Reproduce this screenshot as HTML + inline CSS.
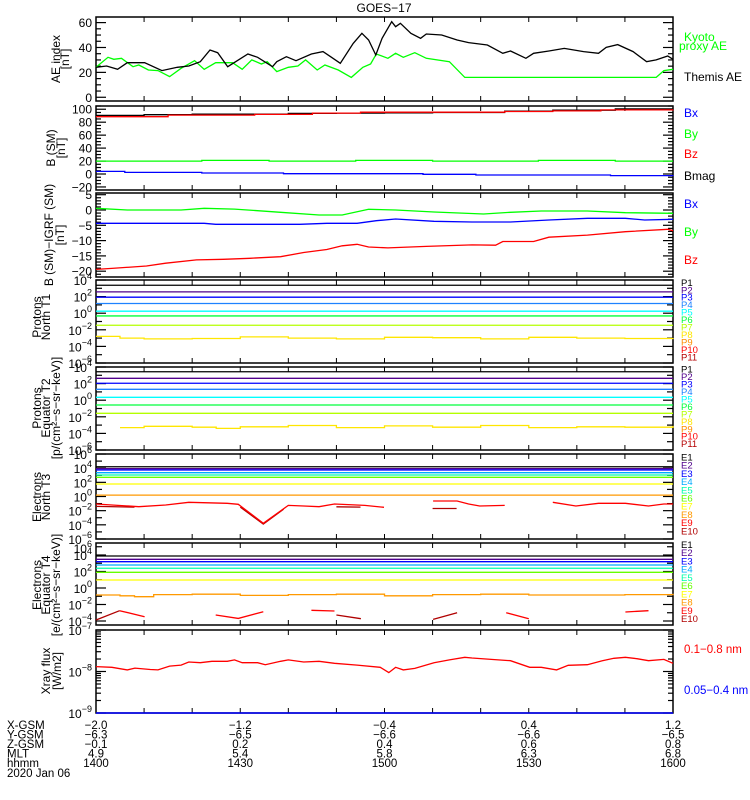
<!DOCTYPE html>
<html><head><meta charset="utf-8"><style>
html,body{margin:0;padding:0;background:#fff;}
svg{display:block;font-family:"Liberation Sans",sans-serif;}
</style></head><body>
<svg id="chart" width="750" height="800" viewBox="0 0 750 800" xmlns="http://www.w3.org/2000/svg">
<text x="384" y="12" font-size="12" text-anchor="middle">GOES−17</text>
</svg>
<script>
// ---------- DATA ----------
const aeBlackT=[0,2.2,4.5,6.5,10.1,13.7,16.9,19.3,21.7,23.7,25.3,27.4,31.6,33.6,36.7,37.6,39.6,41.6,44.8,47.2,48.8,50.8,53.5,55.3,56.7,58.2,59.5,61.5,62.3,63.3,65.5,67.5,68.7,71.9,75.1,77.5,81.4,84.6,86.2,89.4,91,94.2,97.4,101.4,104.5,106.1,108.5,111.7,114.5,116.5,118.9,120];
const aeBlack=[24.1,25.1,22.5,27.8,27.8,21.4,24.1,25.1,28.6,38,35.8,24.6,34.8,32.1,24.6,28.6,32.6,29.4,34.8,36.7,32.6,27.3,43.3,51.4,46,34,47.4,60.7,56.7,59.4,51.4,47.4,50.8,50,46,43.9,42,35.3,37.2,31.3,35.3,37.2,39.3,36.7,35.3,40.1,42.3,36.7,28.6,30,33.2,30.5];
const aeGreenT=[0,2.5,3.7,5.3,7.7,8.9,10.9,12.9,15.3,17.7,20.5,22.5,24.9,28.4,30.4,32.4,34.4,35.6,37.6,40,42,43.6,46,47.6,50.4,53.1,55.5,57.1,58.3,60.7,62.3,63.9,66.3,68.7,73.5,76.7,116.5,118.1,120];
const aeGreen=[24.1,32.1,30.5,31.3,24.6,25.9,21.9,21.4,16.6,23.3,29.4,22.5,27.8,27.8,22.5,30,26.7,28.6,20.6,24.1,25.1,30,21.9,25.9,21.9,16,24.1,26.7,34.8,31.3,35.3,32.1,35.8,31.3,28.6,16,16,21.4,22.5];
const bmagT=[0,10,20,40,50,60,70,85,95,108,120];
const bmag=[90.5,91.5,92.5,93.5,94,94.5,95,97,98.5,100.5,101];
const bzT=[0,15,33,45,55,75,85,95,105,120];
const bz=[88.5,91,92,94,95.5,95.5,96.5,97.5,99,99.5];
const byT=[0,22,36,54,70,92,108,120];
const by=[20,21,20,21,20,21,20,20];
const bxT=[0,6,22,39,68,79,107,120];
const bx=[4,2.5,1.5,0.5,-0.5,-1.5,-2.5,-3];
const dbyT=[0,6.5,17.7,22.5,28.8,38.4,46.4,51.2,56.7,62.3,70.3,80.6,86.2,92.6,102.2,110.1,120];
const dby=[0.55,0,0,0.55,0.3,-0.76,-1.63,-1.63,0.22,0,-0.65,-1.31,-0.76,-0.33,-0.33,-0.87,-1.09];
const dbxT=[0,22.5,24.9,42.4,48,54.3,58.3,62.3,70.3,78.2,86.2,94.2,102.2,110.1,114.1,120];
const dbx=[-4.36,-4.36,-4.68,-4.68,-4.36,-4.36,-3.49,-2.94,-3.7,-3.92,-3.92,-3.27,-2.72,-2.72,-3.27,-3.05];
const dbzT=[0,3.3,10.5,14.5,20.9,26.5,32,38.4,43.2,48,51.2,54.3,56.7,60.7,68.7,78.2,83.1,84.6,91,94.2,102.2,110.1,118.9,120];
const dbz=[-19.4,-19.1,-18.3,-17.4,-16.3,-16.1,-15.8,-15.25,-13.9,-12.9,-11.7,-11.2,-12.1,-12.4,-11.9,-11.4,-11.5,-10.3,-10.3,-8.9,-8.2,-7.1,-6.3,-6.75];
const t1Levels=[3.37,2.57,1.93,1.17,0.24,-0.33,-1.45];
const t1P8T=[0,5,10,20,30,40,50,60,70,80,90,100,110,120];
const t1P8=[-2.8,-3.0,-3.1,-3.05,-2.85,-3.0,-3.1,-2.9,-2.95,-3.1,-2.9,-3.0,-3.05,-3.0];
const t2Levels=[3.43,2.64,2.04,1.31,0.35,-0.58,-1.58];
const t2P8T=[5,10,20,25,30,40,50,60,70,80,90,100,110,120];
const t2P8=[-3.3,-3.15,-3.25,-3.4,-3.2,-3.05,-3.3,-3.1,-3.25,-3.05,-3.3,-3.2,-3.25,-3.1];
const t3Levels=[4.2,3.93,3.74,3.36,3.04,2.71,1.77];
const t3E8=[0.2,0.2];
const t3E9T=[0,3.3,8.9,14.5,19.3,27.3,29.6,34.8,40,43.2,46.4,49.6,55.9,59.9,null,70.1,75.1,77.5,79.8,85,null,95,99.8,104.5,110.1,114.9,118.1,120];
const t3E9=[-1.06,-1.2,-1.44,-1.2,-0.82,-0.96,-1.1,-3.79,-1.25,-1.34,-1.44,-1.06,-1.25,-1.53,null,-0.64,-0.64,-1.06,-1.34,-1.25,null,-0.82,-1.34,-0.96,-0.96,-1.34,-1.06,-1.06];
const t3E10T=[0,8,null,30,34.8,39,null,50,55,null,70,75];
const t3E10=[-1.4,-1.5,null,-1.5,-3.9,-1.8,null,-1.45,-1.5,null,-1.7,-1.7];
const t4Levels=[3.88,3.48,3.19,2.79,2.39,1.9,0.97];
const t4E8T=[0,5,8,12,20,30,40,50,60,70,80,90,100,110,120];
const t4E8=[-0.85,-0.95,-1.05,-0.8,-0.75,-0.9,-0.8,-0.75,-0.95,-0.8,-0.75,-0.85,-0.85,-0.8,-0.7];
const t4E9T=[4.9,10.1,null,24.9,29.6,34.8,null,44.8,49.6,null,85.3,90,null,110.1,114.9];
const t4E9=[-2.75,-3.48,null,-3.27,-3.68,-2.87,null,-2.7,-2.79,null,-2.99,-3.72,null,-2.91,-2.75];
const t4E10T=[0,4.9,null,50,55.1,null,70.1,75.1];
const t4E10=[-3.88,-2.75,null,-3.27,-3.72,null,-3.8,-2.99];
const xrT=[0,3.3,6.5,8.1,11.3,12.9,15.3,17.7,19.3,21.7,24.1,27.3,28.8,30.4,33.6,35.2,38.4,40,43.2,46.4,49.6,54.3,59.1,60.9,62.3,63.9,66.3,70.3,73.5,76.7,78.2,82.2,86.2,90.2,92.6,95.8,98.2,102.2,105.3,107.7,110.1,112.5,114.9,118.1,120];
const xrFlux=[1.31e-8,1.26e-8,1.09e-8,1.21e-8,1.12e-8,1.09e-8,1.35e-8,1.43e-8,1.69e-8,1.63e-8,1.76e-8,1.76e-8,1.9e-8,1.63e-8,1.63e-8,1.46e-8,1.76e-8,1.9e-8,1.69e-8,1.76e-8,1.58e-8,1.43e-8,1.26e-8,0.94e-8,1.26e-8,1.09e-8,1.19e-8,1.63e-8,1.9e-8,2.2e-8,2.11e-8,1.96e-8,1.82e-8,1.26e-8,1.26e-8,1.09e-8,1.41e-8,1.46e-8,1.82e-8,2.08e-8,2.2e-8,2.04e-8,1.82e-8,1.96e-8,1.58e-8];
const xTickMin=[0,30,60,90,120];
const xGsm=["−2.0","−1.2","−0.4","0.4","1.2"];
const yGsm=["−6.3","−6.5","−6.6","−6.6","−6.5"];
const zGsm=["−0.1","0.2","0.4","0.6","0.8"];
const mlt=["4.9","5.4","5.8","6.3","6.8"];
const hhmm=["1400","1430","1500","1530","1600"];

// ---------- DRAWING ----------
const svg=document.getElementById('chart');
const NS='http://www.w3.org/2000/svg';
const X0=96, X1=673, TMAX=120;
function xs(t){return X0+t/TMAX*(X1-X0);}
function el(tag,attrs,parent){const e=document.createElementNS(NS,tag);for(const k in attrs)e.setAttribute(k,attrs[k]);(parent||svg).appendChild(e);return e;}
function scale(top,bot,lo,hi){return v=>bot-(v-lo)/(hi-lo)*(bot-top);}
function linePath(T,V,ys,step){
  let d='',pen=false;
  for(let i=0;i<T.length;i++){
    if(T[i]===null||V[i]===null){pen=false;continue;}
    const x=xs(T[i]).toFixed(1), y=ys(V[i]).toFixed(1);
    if(!pen){d+='M'+x+' '+y;pen=true;}
    else if(step){d+='H'+x+'V'+y;}
    else d+='L'+x+' '+y;
  }
  return d;
}
function series(T,V,ys,color,name,step,g){
  const p=el('path',{d:linePath(T,V,ys,step),fill:'none',stroke:color,'stroke-width':1.3},g);
  
  
  return p;
}
function levelLine(v,ys,color,name,g){
  const y=ys(v);
  const p=el('line',{x1:X0,x2:X1,y1:y,y2:y,stroke:color,'stroke-width':1.3},g);
  
  
}
function frame(top,bot,name){
  const g=el('g',{});
  
  
  const r=el('rect',{x:X0,y:top,width:X1-X0,height:bot-top,fill:'none',stroke:'#000','stroke-width':1.5},g);
  
  
  for(let t=10;t<TMAX;t+=10){
    const x=xs(t);
    el('line',{x1:x,x2:x,y1:top,y2:top+5,stroke:'#000','stroke-width':1},g);
    el('line',{x1:x,x2:x,y1:bot,y2:bot-5,stroke:'#000','stroke-width':1},g);
  }
  return g;
}
function yTick(g,y,len){
  el('line',{x1:X0,x2:X0+len,y1:y,y2:y,stroke:'#000','stroke-width':1.2},g);
  el('line',{x1:X1,x2:X1-len,y1:y,y2:y,stroke:'#000','stroke-width':1.2},g);
}
function tickLabel(g,y,txt){
  const t=el('text',{x:92,y:y+4.5,'font-size':12,'text-anchor':'end'},g);
  t.textContent=txt;
  
  
}
function logLabel(g,y,k){
  const t=el('text',{x:92,y:y+5,'font-size':12,'text-anchor':'end'},g);
  
  
  const a=el('tspan',{},t);a.textContent='10';
  const b=el('tspan',{dy:-6,'font-size':9},t);b.textContent=(k<0?'−':'')+Math.abs(k);
}
function linAxis(g,ys,lo,hi,minor,major,labels){
  for(let v=Math.ceil(lo/minor)*minor;v<=hi;v+=minor){
    const isMaj=Math.abs(v/major-Math.round(v/major))<1e-6;
    yTick(g,ys(v),isMaj?10:5);
  }
  labels.forEach(v=>tickLabel(g,ys(v),(v<0?'−':'')+Math.abs(v)));
}
function logAxis(g,ys,lo,hi,labels,minorDecades){
  for(let k=Math.ceil(lo);k<=Math.floor(hi);k++){
    yTick(g,ys(k),labels.includes(k)?10:6);
    if(minorDecades){for(let m=2;m<10;m++){const v=k+Math.log10(m);if(v<hi&&v>lo)yTick(g,ys(v),5);}}
  }
  labels.forEach(k=>logLabel(g,ys(k),k));
}
function yTitle(lines,cy,xs0,name){
  lines.forEach((s,i)=>{
    const x=xs0[i];
    const t=el('text',{x:x,y:cy,'font-size':12,'text-anchor':'middle',transform:'rotate(-90 '+x+' '+cy+')','dominant-baseline':'middle'});
    t.textContent=s;
    
    
  });
}
function legendText(x,y,txt,color,size,name){
  const t=el('text',{x:x,y:y,'font-size':size,fill:color});
  t.textContent=txt;
  
  
}
(function(){
  const top=17,bot=101,lo=-3,hi=64.5,ys=scale(top,bot,lo,hi);
  const g=frame(top,bot,'ae-index-panel');
  linAxis(g,ys,lo,hi,5,20,[0,20,40,60]);
  series(aeGreenT,aeGreen,ys,'#00ff00','kyoto-proxy-ae-line',false,g);
  series(aeBlackT,aeBlack,ys,'#000','themis-ae-line',false,g);
  yTitle(['AE index','[nT]'],59,[57,66],'ae-y-axis-title');
  legendText(684,41,'Kyoto','#00ff00',12,'legend-kyoto');
  legendText(679,50,'proxy AE','#00ff00',12,'legend-proxy-ae');
  legendText(684,81,'Themis AE','#000',12,'legend-themis-ae');
})();
(function(){
  const top=106,bot=190,lo=-24.7,hi=105,ys=scale(top,bot,lo,hi);
  const g=frame(top,bot,'b-sm-panel');
  linAxis(g,ys,lo,hi,5,20,[-20,0,20,40,60,80,100]);
  series(byT,by,ys,'#00ff00','by-line',true,g);
  series(bxT,bx,ys,'#0000ff','bx-line',true,g);
  series(bmagT,bmag,ys,'#000','bmag-line',true,g);
  series(bzT,bz,ys,'#ff0000','bz-line',true,g);
  yTitle(['B (SM)','[nT]'],148,[52,62],'b-sm-y-axis-title');
  legendText(684,117,'Bx','#0000ff',12,'legend-bx');
  legendText(684,138,'By','#00ff00',12,'legend-by');
  legendText(684,158,'Bz','#ff0000',12,'legend-bz');
  legendText(684,180,'Bmag','#000',12,'legend-bmag');
})();
(function(){
  const top=193,bot=277,ys=v=>210-3.06*v,lo=-21.9,hi=5.56;
  const g=frame(top,bot,'b-igrf-panel');
  linAxis(g,ys,lo,hi,1,5,[-20,-15,-10,-5,0,5]);
  series(dbyT,dby,ys,'#00ff00','dby-line',false,g);
  series(dbxT,dbx,ys,'#0000ff','dbx-line',false,g);
  series(dbzT,dbz,ys,'#ff0000','dbz-line',false,g);
  yTitle(['B (SM)−IGRF (SM)','[nT]'],235,[50,61],'b-igrf-y-axis-title');
  legendText(684,208,'Bx','#0000ff',12,'legend-dbx');
  legendText(684,236,'By','#00ff00',12,'legend-dby');
  legendText(684,264,'Bz','#ff0000',12,'legend-dbz');
})();
const pColors=['#000000','#50008c','#0000ff','#1e82ff','#00ffff','#00ff3c','#b4ff00','#ffe600','#ff8c00','#ff0000','#b40000'];
const eColors=['#000000','#50008c','#0000ff','#00aaff','#00ffaa','#66ff00','#ffff00','#ff9900','#ff0000','#b00000'];
function chanLegend(prefix,n,colors,y0,dy,name){
  for(let i=0;i<n;i++)legendText(681,y0+i*dy+3.5,prefix+(i+1),colors[i],9.5,name+'-'+prefix.toLowerCase()+(i+1));
}
(function(){
  const top=280,bot=363,lo=-6,hi=4,ys=scale(top,bot,lo,hi);
  const g=frame(top,bot,'protons-north-t1-panel');
  logAxis(g,ys,lo,hi,[-6,-4,-2,0,2,4],false);
  t1Levels.forEach((v,i)=>levelLine(v,ys,pColors[i],'t1-p'+(i+1)+'-line',g));
  series(t1P8T,t1P8,ys,pColors[7],'t1-p8-line',true,g);
  yTitle(['Protons','North T1'],317,[38,47],'t1-y-axis-title');
  chanLegend('P',11,pColors,282.3,7.47,'t1-legend');
})();
(function(){
  const top=367,bot=450,lo=-6,hi=4,ys=scale(top,bot,lo,hi);
  const g=frame(top,bot,'protons-equator-t2-panel');
  logAxis(g,ys,lo,hi,[-6,-4,-2,0,2,4],false);
  t2Levels.forEach((v,i)=>levelLine(v,ys,pColors[i],'t2-p'+(i+1)+'-line',g));
  series(t2P8T,t2P8,ys,pColors[7],'t2-p8-line',true,g);
  yTitle(['Protons','Equator T2','[p/(cm²−s−sr−keV)]'],408,[38,47,57],'t2-y-axis-title');
  chanLegend('P',11,pColors,369,7.47,'t2-legend');
})();
(function(){
  const top=454,bot=539,ys=v=>496.5-7.08*v,lo=-6,hi=6;
  const g=frame(top,bot,'electrons-north-t3-panel');
  logAxis(g,ys,lo,hi,[-6,-4,-2,0,2,4,6],false);
  t3Levels.forEach((v,i)=>levelLine(v,ys,eColors[i],'t3-e'+(i+1)+'-line',g));
  series([0,120],t3E8,ys,eColors[7],'t3-e8-line',true,g);
  series(t3E10T,t3E10,ys,eColors[9],'t3-e10-line',false,g);
  series(t3E9T,t3E9,ys,eColors[8],'t3-e9-line',false,g);
  yTitle(['Electrons','North T3'],497,[38,47],'t3-y-axis-title');
  chanLegend('E',10,eColors,457,8.2,'t3-legend');
})();
(function(){
  const top=543,bot=625,ys=v=>588-8.25*v,lo=-4.48,hi=5.45;
  const g=frame(top,bot,'electrons-equator-t4-panel');
  logAxis(g,ys,lo,hi,[-4,-2,0,2,4],false);
  logLabel(g,548,6);
  t4Levels.forEach((v,i)=>levelLine(v,ys,eColors[i],'t4-e'+(i+1)+'-line',g));
  series(t4E8T,t4E8,ys,eColors[7],'t4-e8-line',true,g);
  series(t4E10T,t4E10,ys,eColors[9],'t4-e10-line',false,g);
  series(t4E9T,t4E9,ys,eColors[8],'t4-e9-line',false,g);
  yTitle(['Electrons','Equator T4','[e/(cm²−s−sr−keV)]'],585,[38,47,57],'t4-y-axis-title');
  chanLegend('E',10,eColors,544.3,8.27,'t4-legend');
})();
(function(){
  const top=630,bot=713,lo=-9,hi=-7,ys0=scale(top,bot,lo,hi),ys=v=>ys0(Math.log10(v));
  const g=frame(top,bot,'xray-flux-panel');
  logAxis(g,ys0,lo,hi,[-9,-8,-7],true);
  series(xrT,xrFlux,ys,'#ff0000','xray-long-line',false,g);
  const b=el('line',{x1:X0,x2:X1,y1:bot,y2:bot,stroke:'#0000ff','stroke-width':1.5},g);
  
  
  yTitle(['Xray flux','[W/m2]'],671,[47,58],'xray-y-axis-title');
  legendText(684,653,'0.1−0.8 nm','#ff0000',11.5,'legend-xray-long');
  legendText(684,694,'0.05−0.4 nm','#0000ff',11.5,'legend-xray-short');
})();
const rows=[['X-GSM',xGsm],['Y-GSM',yGsm],['Z-GSM',zGsm],['MLT',mlt],['hhmm',hhmm]];
rows.forEach((r,i)=>{
  const y=729+i*9.5;
  legendText(7,y,r[0],'#000',11.5,'x-row-label-'+r[0].toLowerCase());
  r[1].forEach((s,j)=>{
    const t=el('text',{x:xs(xTickMin[j]),y:y,'font-size':11.5,'text-anchor':'middle'});
    t.textContent=s;
    
    
  });
});
legendText(7,777,'2020 Jan 06','#000',11.5,'date-label');
</script>
</body></html>
